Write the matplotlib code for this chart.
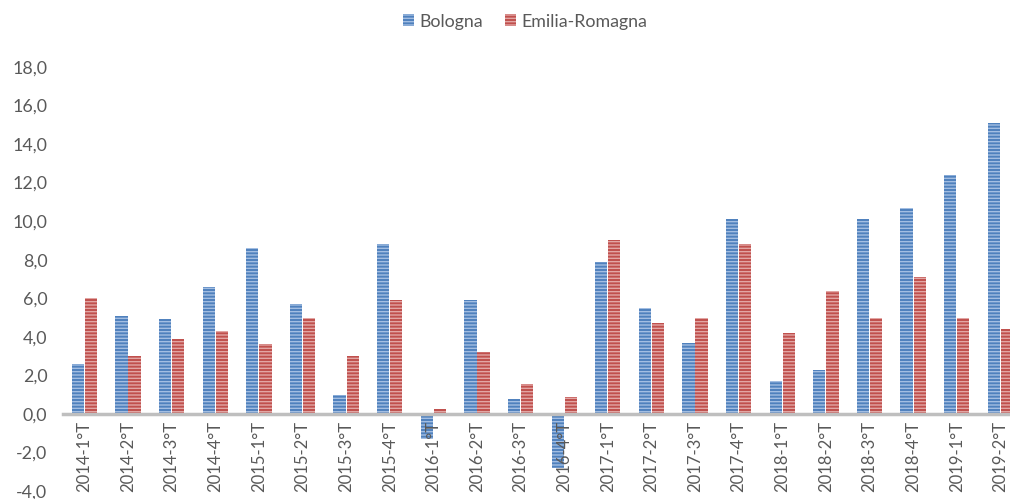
import numpy as np
import matplotlib
matplotlib.use("Agg")
import matplotlib.pyplot as plt
from matplotlib.ticker import FuncFormatter, MultipleLocator

quarters = ["2014-1°T", "2014-2°T", "2014-3°T", "2014-4°T",
            "2015-1°T", "2015-2°T", "2015-3°T", "2015-4°T",
            "2016-1°T", "2016-2°T", "2016-3°T", "2016-4°T",
            "2017-1°T", "2017-2°T", "2017-3°T", "2017-4°T",
            "2018-1°T", "2018-2°T", "2018-3°T", "2018-4°T",
            "2019-1°T", "2019-2°T"]
bologna = [2.6, 5.1, 4.9, 6.6, 8.6, 5.7, 1.0, 8.8, -1.3, 5.9, 0.75, -2.8,
           7.9, 5.5, 3.7, 10.1, 1.7, 2.3, 10.1, 10.7, 12.4, 15.1]
emilia = [6.0, 3.0, 3.9, 4.3, 3.6, 5.0, 3.0, 5.9, 0.25, 3.2, 1.55, 0.9,
          9.0, 4.7, 5.0, 8.8, 4.2, 6.4, 5.0, 7.1, 5.0, 4.4]

plt.rcParams['font.family'] = ['Lato', 'DejaVu Sans']
plt.rcParams['hatch.linewidth'] = 1.0

fig = plt.figure(figsize=(10.10, 4.99), dpi=100)
ax = fig.add_axes([0.062, 0.016, 0.95, 0.85])

x = np.arange(len(quarters))
w = 0.28
ax.bar(x - 0.15, bologna, w, color="#4f81bd", edgecolor="#a3bee2",
       linewidth=0, hatch="-----", label="Bologna")
ax.bar(x + 0.15, emilia, w, color="#c0504d", edgecolor="#e2a6a4",
       linewidth=0, hatch="-----", label="Emilia-Romagna")

ax.set_xlim(-0.5, len(quarters) - 0.5)
ax.set_ylim(-4, 18)
ax.yaxis.set_major_locator(MultipleLocator(2))
ax.yaxis.set_major_formatter(FuncFormatter(lambda v, p: f"{v:.1f}".replace(".", ",")))

for s in ["top", "right", "left"]:
    ax.spines[s].set_visible(False)
ax.spines["bottom"].set_position(("data", 0))
ax.spines["bottom"].set_color("#bfbfbf")
ax.spines["bottom"].set_linewidth(2.5)
ax.spines["bottom"].set_zorder(3)

ax.set_xticks(x)
ax.set_xticklabels(quarters, rotation=90, fontsize=12, color="#595959")
ax.tick_params(axis="x", length=0, pad=5)
ax.tick_params(axis="y", length=0, pad=11, labelsize=12.8, labelcolor="#595959")

fig.legend(loc="upper center", bbox_to_anchor=(0.52, 1.005), ncol=2, frameon=False,
           fontsize=12.8, handlelength=0.65, handleheight=0.65, columnspacing=1.2,
           handletextpad=0.3, labelcolor="#595959")

fig.savefig("out.png", dpi=100)
